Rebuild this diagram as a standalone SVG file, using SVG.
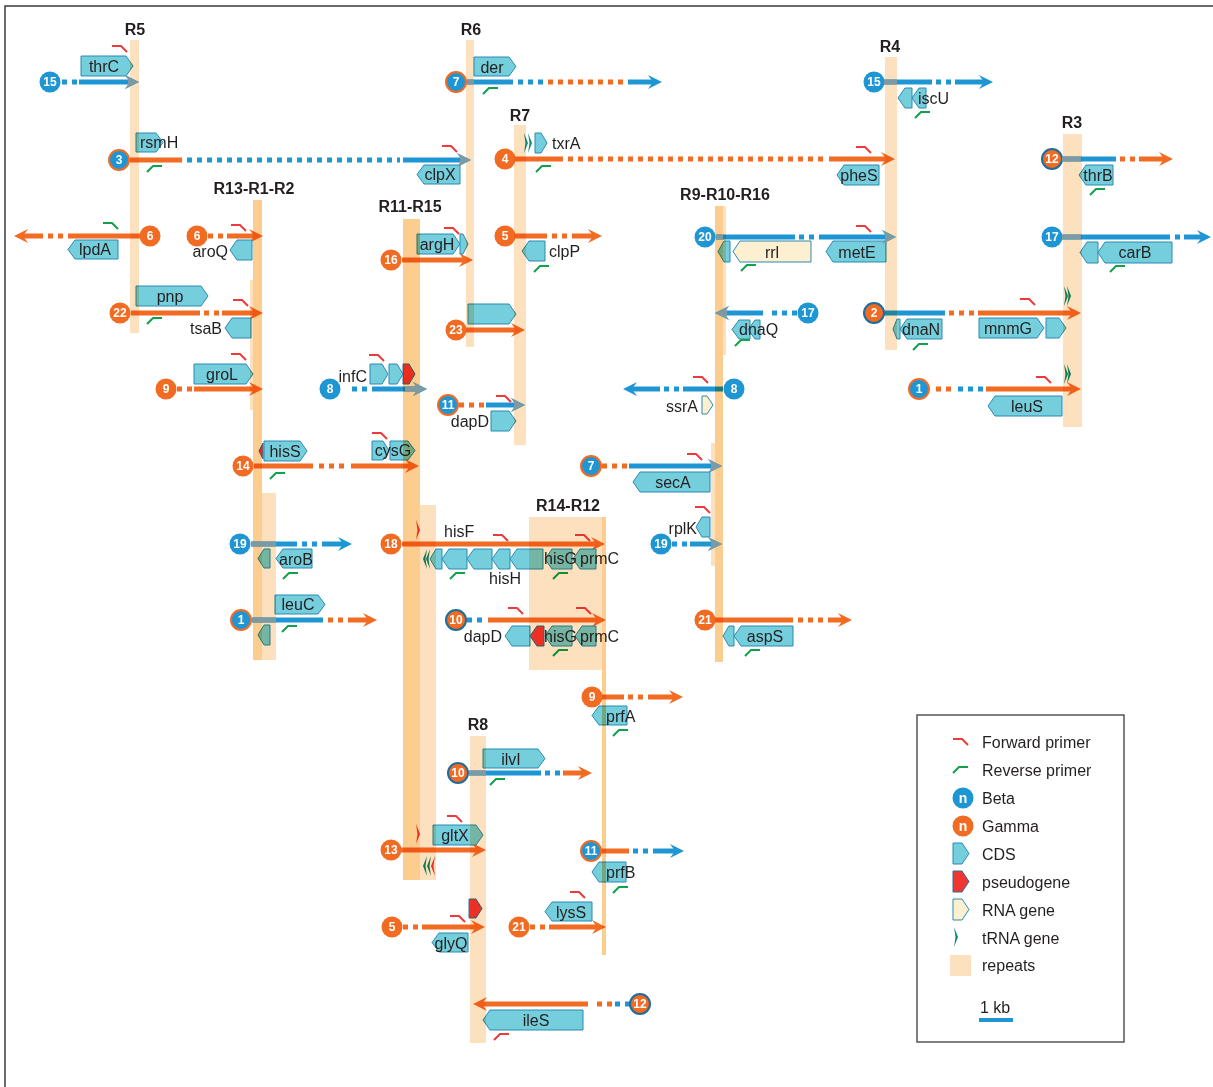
<svg xmlns="http://www.w3.org/2000/svg" width="1213" height="1087" viewBox="0 0 1213 1087">
<style>
text{font-family:"Liberation Sans",Arial,sans-serif;fill:#231f20}
.l{font-size:16px}
.m{text-anchor:middle}
.e{text-anchor:end}
.r{font-size:16px;font-weight:bold;text-anchor:middle}
.n{font-size:12px;font-weight:bold;fill:#fff;text-anchor:middle}
.cb{fill:#1f96d4}
.co{fill:#f26b22}
.rb{stroke:#f26b22;stroke-width:2}
.ro{stroke:#1d6c9c;stroke-width:2}
.sb{stroke:#1f96d4;stroke-width:5;fill:none}
.so{stroke:#f26b22;stroke-width:5;fill:none}
.sg{stroke:#7c9aa6;stroke-width:5;fill:none}
.d{stroke-dasharray:5 5}
.ab{marker-end:url(#mb)}
.ao{marker-end:url(#mo)}
.ag{marker-end:url(#mg)}
.cds{fill:#75cedc;stroke:#2b8ab3;stroke-width:1}
.ps{fill:#ef3631;stroke:#2b6f9a;stroke-width:1}
.rna{fill:#fdf0d0;stroke:#2b8ab3;stroke-width:1}
.tr{fill:#0e8a72}
.trr{fill:#ee3631}
.fr{fill:none;stroke:#ee3a3b;stroke-width:2}
.fg{fill:none;stroke:#10a24b;stroke-width:2}
.rep{fill:#fde0bd}
.rep2{fill:#fdcd90}
#repeats{mix-blend-mode:multiply}
</style>
<defs>
<marker id="mb" viewBox="0 -7 14 14" refX="5" refY="0" markerWidth="14" markerHeight="14" markerUnits="userSpaceOnUse" orient="auto"><path d="M0,-7L14,0L0,7L5,0Z" fill="#1f96d4"/></marker>
<marker id="mo" viewBox="0 -7 14 14" refX="5" refY="0" markerWidth="14" markerHeight="14" markerUnits="userSpaceOnUse" orient="auto"><path d="M0,-7L14,0L0,7L5,0Z" fill="#f26b22"/></marker>
<marker id="mg" viewBox="0 -7 14 14" refX="5" refY="0" markerWidth="14" markerHeight="14" markerUnits="userSpaceOnUse" orient="auto"><path d="M0,-7L14,0L0,7L5,0Z" fill="#7c9aa6"/></marker>
<path id="fp" d="M0,0H9L15,6"/>
<path id="rp" d="M15,0H6L0,6"/>
<path id="tr" d="M0,0L4,10L0,20L1.5,10Z"/>
<path id="trl" d="M4,0L0,10L4,20L2.5,10Z"/>
</defs>
<rect x="0" y="0" width="1213" height="1087" fill="#fff"/>
<rect x="5" y="6" width="1300" height="1200" fill="none" stroke="#3a3a3a" stroke-width="1.5"/>

<g id="connectors">
<path class="sb d" d="M62,82H77"/><path class="sb ab" d="M79,82H130"/>
<path class="so" d="M130,160H182"/><path class="sb d" d="M187,160H400"/><path class="sb ab" d="M403,160H462"/>
<path class="so" d="M140,236H68"/><path class="so d" d="M63,236H47"/><path class="so ao" d="M43,236H23"/>
<path class="so d" d="M208,236H223"/><path class="so ao" d="M227,236H254"/>
<path class="so" d="M131,313H200"/><path class="so d" d="M204,313H219"/><path class="so ao" d="M222,313H254"/>
<path class="so d" d="M177,389H192"/><path class="so ao" d="M194,389H254"/>
<path class="so" d="M254,466H313"/><path class="so d" d="M319,466H344"/><path class="so ao" d="M351,466H410"/>
<path class="sb" d="M251,544H297"/><path class="sb d" d="M302,544H317"/><path class="sb ab" d="M322,544H343"/>
<path class="sb" d="M252,620H323"/><path class="so d" d="M328,620H343"/><path class="so ao" d="M348,620H368"/>
<path class="sb" d="M467,82H513"/><path class="sb d" d="M518,82H543"/><path class="so d" d="M548,82H623"/><path class="sb ab" d="M628,82H653"/>
<path class="so" d="M515,159H563"/><path class="so d" d="M568,159H823"/><path class="so ao" d="M829,159H886"/>
<path class="so" d="M515,236H547"/><path class="so d" d="M552,236H567"/><path class="so ao" d="M572,236H593"/>
<path class="so ao" d="M402,260H464"/>
<path class="so ao" d="M466,330H516"/>
<path class="sb d" d="M352,389H367"/><path class="sb ab" d="M372,389H418"/>
<path class="so d" d="M459,405H484"/><path class="sb ab" d="M486,405H516"/>
<path class="sb" d="M716,237H795"/><path class="sb d" d="M799,237H814"/><path class="sb ab" d="M819,237H887"/>
<path class="sb d" d="M797,313H767"/><path class="sb ab" d="M763,313H724"/>
<path class="sb" d="M723,389H683"/><path class="sb d" d="M679,389H664"/><path class="sb ab" d="M660,389H632"/>
<path class="so d" d="M602,466H627"/><path class="sb ab" d="M629,466H713"/>
<path class="sb d" d="M672,544H687"/><path class="sb ab" d="M690,544H713"/>
<path class="so" d="M715,620H793"/><path class="so d" d="M798,620H823"/><path class="so ao" d="M828,620H843"/>
<path class="sb" d="M884,82H932"/><path class="sb d" d="M936,82H951"/><path class="sb ab" d="M955,82H984"/>
<path class="sb" d="M884,313H945"/><path class="so d" d="M949,313H974"/><path class="so ao" d="M978,313H1072"/>
<path class="sb" d="M1062,159H1116"/><path class="so d" d="M1120,159H1135"/><path class="so ao" d="M1139,159H1164"/>
<path class="sb" d="M1062,237H1170"/><path class="sb d" d="M1175,237H1180"/><path class="sb ab" d="M1184,237H1202"/>
<path class="so d" d="M936,389H951"/><path class="sb d" d="M958,389H983"/><path class="so ao" d="M986,389H1072"/>
<path class="so ao" d="M402,544H596"/>
<path class="sb d" d="M467,620H482"/><path class="so ao" d="M488,620H597"/>
<path class="so" d="M602,697H624"/><path class="so d" d="M628,697H643"/><path class="so ao" d="M648,697H674"/>
<path class="sb" d="M469,773H541"/><path class="sb d" d="M545,773H560"/><path class="so ao" d="M563,773H583"/>
<path class="so ao" d="M401,850H477"/>
<path class="so" d="M601,851H629"/><path class="sb d" d="M633,851H648"/><path class="sb ab" d="M653,851H675"/>
<path class="so d" d="M403,927H418"/><path class="so ao" d="M422,927H476"/>
<path class="so d" d="M530,927H545"/><path class="so ao" d="M549,927H597"/>
<path class="sb d" d="M630,1004H615"/><path class="so d" d="M612,1004H592"/><path class="so ao" d="M588,1004H482"/>
</g>

<g id="n-thrC">
<path class="cds" d="M81,56H126L133,66L126,76H81Z"/><text class="l m" x="104" y="72">thrC</text>
<use href="#fp" x="112" y="46" class="fr"/>
<circle cx="50" cy="82" r="10.5" class="cb"/><text class="n" x="50" y="86.3">15</text>
</g>
<g id="n-rsmH">
<path class="cds" d="M136,133H156L163,142.5L156,152H136Z"/><text class="l" x="140" y="148">rsmH</text>
<use href="#rp" x="147" y="166" class="fg"/>
<use href="#fp" x="442" y="146" class="fr"/>
<path class="cds" d="M460,165H424L417,174.5L424,184H460Z"/><text class="l m" x="440" y="180">clpX</text>
<circle cx="119" cy="160" r="10" class="cb rb"/><text class="n" x="119" y="164.3">3</text>
</g>
<g id="n-lpdA">
<path class="cds" d="M118,240H75L68,249.5L75,259H118Z"/><text class="l m" x="95" y="255">lpdA</text>
<use href="#fp" x="103" y="223" class="fg"/>
<circle cx="150" cy="236" r="10.5" class="co"/><text class="n" x="150" y="240.3">6</text>
</g>
<g id="n-aroQ">
<path class="cds" d="M252,240H237L230,250L237,260H252Z"/><text class="l e" x="228" y="257">aroQ</text>
<use href="#fp" x="231" y="225" class="fr"/>
<circle cx="197" cy="236" r="10.5" class="co"/><text class="n" x="197" y="240.3">6</text>
</g>
<g id="n-pnp">
<path class="cds" d="M136,286H201L208,296L201,306H136Z"/><text class="l m" x="170" y="302">pnp</text>
<use href="#fp" x="233" y="300" class="fr"/>
<use href="#rp" x="147" y="318" class="fg"/>
<path class="cds" d="M251,318H232L225,328L232,338H251Z"/><text class="l e" x="222" y="334">tsaB</text>
<circle cx="120" cy="313" r="10.5" class="co"/><text class="n" x="120" y="317.3">22</text>
</g>
<g id="n-groL">
<path class="cds" d="M194,364H246L253,374L246,384H194Z"/><text class="l m" x="222" y="380">groL</text>
<use href="#fp" x="231" y="354" class="fr"/>
<circle cx="166" cy="389" r="10.5" class="co"/><text class="n" x="166" y="393.3">9</text>
</g>
<g id="n-hisS">
<path class="cds" d="M264,441H300L307,451L300,461H264Z"/><text class="l m" x="285" y="457">hisS</text>
<path class="ps" d="M263,443L259,451L263,459Z"/>
<use href="#rp" x="270" y="473" class="fg"/>
<path class="cds" d="M372,441H383L389,450.5L383,460H372Z"/><path class="cds" d="M390,441H408L415,450.5L408,460H390Z"/>
<text class="l m" x="393" y="456">cysG</text>
<use href="#fp" x="372" y="433" class="fr"/>
<circle cx="243" cy="466" r="10.5" class="co"/><text class="n" x="243" y="470.3">14</text>
</g>
<g id="n-aroB">
<path class="cds" d="M270,549H264L258,558.5L264,568H270Z"/>
<path class="cds" d="M312,549H283L276,558.5L283,568H312Z"/><text class="l m" x="296" y="565">aroB</text>
<use href="#rp" x="283" y="573" class="fg"/>
<circle cx="240" cy="544" r="10.5" class="cb"/><text class="n" x="240" y="548.3">19</text>
</g>
<g id="n-leuC">
<path class="cds" d="M275,595H318L325,604.5L318,614H275Z"/><text class="l m" x="298" y="610">leuC</text>
<path class="cds" d="M270,625H264L258,635L264,645H270Z"/>
<use href="#rp" x="282" y="626" class="fg"/>
<circle cx="241" cy="620" r="10" class="cb rb"/><text class="n" x="241" y="624.3">1</text>
</g>
<g id="n-der">
<path class="cds" d="M474,57H509L516,66.5L509,76H474Z"/><text class="l m" x="492" y="73">der</text>
<use href="#rp" x="483" y="88" class="fg"/>
<circle cx="456" cy="82" r="10" class="cb rb"/><text class="n" x="456" y="86.3">7</text>
</g>
<g id="n-txrA">
<use href="#tr" x="524" y="133" class="tr"/><use href="#tr" x="528" y="133" class="tr"/>
<path class="cds" d="M535,133H541L547,143L541,153H535Z"/><text class="l" x="552" y="149">txrA</text>
<use href="#rp" x="536" y="166" class="fg"/>
<use href="#fp" x="856" y="147" class="fr"/>
<path class="cds" d="M879,165H844L837,175L844,185H879Z"/><text class="l m" x="859" y="181">pheS</text>
<circle cx="505" cy="159" r="10.5" class="co"/><text class="n" x="505" y="163.3">4</text>
</g>
<g id="n-clpP">
<path class="cds" d="M545,241H529L522,251L529,261H545Z"/><text class="l" x="549" y="257">clpP</text>
<use href="#rp" x="534" y="266" class="fg"/>
<circle cx="505" cy="236" r="10.5" class="co"/><text class="n" x="505" y="240.3">5</text>
</g>
<g id="n-argH">
<path class="cds" d="M417,234H453L460,244L453,254H417Z"/><path class="cds" d="M460,234H463L468,244L463,254H460Z"/>
<text class="l m" x="437" y="250">argH</text>
<use href="#fp" x="444" y="228" class="fr"/>
<circle cx="391" cy="260" r="10.5" class="co"/><text class="n" x="391" y="264.3">16</text>
</g>
<g id="n-23">
<path class="cds" d="M468,304H509L516,314L509,324H468Z"/>
<circle cx="456" cy="330" r="10.5" class="co"/><text class="n" x="456" y="334.3">23</text>
</g>
<g id="n-infC">
<path class="cds" d="M370,364H382L388,374L382,384H370Z"/><path class="cds" d="M389,364H397L403,374L397,384H389Z"/>
<path class="ps" d="M403,364H409L415,374L409,384H403Z"/>
<text class="l e" x="367" y="382">infC</text>
<use href="#fp" x="369" y="355" class="fr"/>
<circle cx="330" cy="389" r="10.5" class="cb"/><text class="n" x="330" y="393.3">8</text>
</g>
<g id="n-dapD1">
<path class="cds" d="M491,411H509L516,421L509,431H491Z"/><text class="l e" x="489" y="427">dapD</text>
<use href="#fp" x="496" y="396" class="fr"/>
<circle cx="448" cy="405" r="10" class="cb rb"/><text class="n" x="448" y="409.3">11</text>
</g>
<g id="n-rrl">
<path class="cds" d="M730,241H724L718,251.5L724,262H730Z"/>
<path class="rna" d="M811,241H740L733,251.5L740,262H811Z"/><text class="l m" x="772" y="258">rrl</text>
<path class="cds" d="M886,241H833L826,251.5L833,262H886Z"/><text class="l m" x="857" y="258">metE</text>
<use href="#fp" x="856" y="226" class="fr"/>
<use href="#rp" x="741" y="265" class="fg"/>
<circle cx="705" cy="237" r="10.5" class="cb"/><text class="n" x="705" y="241.3">20</text>
</g>
<g id="n-dnaQ">
<path class="cds" d="M750,320H739L732,329.5L739,339H750Z"/><path class="cds" d="M760,320H755L748,329.5L755,339H760Z"/>
<text class="l" x="739" y="335">dnaQ</text>
<use href="#rp" x="735" y="340" class="fg"/>
<circle cx="808" cy="313" r="10.5" class="cb"/><text class="n" x="808" y="317.3">17</text>
</g>
<g id="n-ssrA">
<path class="rna" d="M702,396H707L713,405L707,414H702Z"/><text class="l e" x="698" y="412">ssrA</text>
<use href="#fp" x="693" y="377" class="fr"/>
<circle cx="734" cy="389" r="10.5" class="cb"/><text class="n" x="734" y="393.3">8</text>
</g>
<g id="n-secA">
<path class="cds" d="M710,472H640L633,482L640,492H710Z"/><text class="l m" x="673" y="488">secA</text>
<use href="#fp" x="687" y="454" class="fr"/>
<circle cx="591" cy="466" r="10" class="cb rb"/><text class="n" x="591" y="470.3">7</text>
</g>
<g id="n-rplK">
<path class="cds" d="M710,517H702L696,527L702,537H710Z"/><text class="l e" x="697" y="534">rplK</text>
<use href="#fp" x="695" y="507" class="fr"/>
<circle cx="661" cy="544" r="10.5" class="cb"/><text class="n" x="661" y="548.3">19</text>
</g>
<g id="n-aspS">
<path class="cds" d="M734,626H729L723,636L729,646H734Z"/>
<path class="cds" d="M793,626H741L734,636L741,646H793Z"/><text class="l m" x="765" y="642">aspS</text>
<use href="#rp" x="745" y="650" class="fg"/>
<circle cx="705" cy="620" r="10.5" class="co"/><text class="n" x="705" y="624.3">21</text>
</g>
<g id="n-iscU">
<path class="cds" d="M912,88H905L898,98L905,108H912Z"/><path class="cds" d="M926,88H919L912,98L919,108H926Z"/>
<text class="l" x="918" y="104">iscU</text>
<use href="#rp" x="915" y="112" class="fg"/>
<circle cx="874" cy="82" r="10.5" class="cb"/><text class="n" x="874" y="86.3">15</text>
</g>
<g id="n-dnaN">
<path class="cds" d="M900,319H897L893,329L897,339H900Z"/>
<path class="cds" d="M942,319H907L900,329L907,339H942Z"/><text class="l m" x="921" y="335">dnaN</text>
<use href="#rp" x="913" y="344" class="fg"/>
<use href="#fp" x="1020" y="299" class="fr"/>
<path class="cds" d="M979,318H1037L1044,328L1037,338H979Z"/><text class="l m" x="1008" y="334">mnmG</text>
<path class="cds" d="M1046,318H1059L1066,328L1059,338H1046Z"/>
<use href="#tr" x="1064" y="286" class="tr"/><use href="#tr" x="1067" y="286" class="tr"/>
<circle cx="874" cy="313" r="10" class="co ro"/><text class="n" x="874" y="317.3">2</text>
</g>
<g id="n-thrB">
<path class="cds" d="M1113,165H1086L1079,175L1086,185H1113Z"/><text class="l m" x="1098" y="181">thrB</text>
<use href="#rp" x="1090" y="189" class="fg"/>
<circle cx="1052" cy="159" r="10" class="co ro"/><text class="n" x="1052" y="163.3">12</text>
</g>
<g id="n-carB">
<path class="cds" d="M1098,242H1087L1080,252.5L1087,263H1098Z"/>
<path class="cds" d="M1172,242H1105L1098,252.5L1105,263H1172Z"/><text class="l m" x="1135" y="258">carB</text>
<use href="#rp" x="1110" y="266" class="fg"/>
<circle cx="1052" cy="237" r="10.5" class="cb"/><text class="n" x="1052" y="241.3">17</text>
</g>
<g id="n-leuS">
<path class="cds" d="M1062,396H995L988,406L995,416H1062Z"/><text class="l m" x="1027" y="412">leuS</text>
<use href="#fp" x="1036" y="377" class="fr"/>
<use href="#tr" x="1064" y="364" class="tr"/><use href="#tr" x="1067" y="364" class="tr"/>
<circle cx="919" cy="389" r="10" class="cb rb"/><text class="n" x="919" y="393.3">1</text>
</g>
<g id="n-hisF">
<use href="#tr" x="416" y="520" class="trr"/>
<text class="l" x="444" y="537">hisF</text>
<use href="#fp" x="493" y="535" class="fr"/><use href="#fp" x="575" y="535" class="fr"/>
<use href="#trl" x="423" y="549" class="tr"/><use href="#trl" x="426" y="549" class="tr"/>
<path class="cds" d="M442,549H436L430,559L436,569H442Z"/>
<path class="cds" d="M467,549H449L442,559L449,569H467Z"/>
<path class="cds" d="M492,549H474L467,559L474,569H492Z"/>
<path class="cds" d="M510,549H499L492,559L499,569H510Z"/>
<path class="cds" d="M543,549H517L510,559L517,569H543Z"/>
<path class="cds" d="M572,549H552L545,559L552,569H572Z"/>
<path class="cds" d="M596,549H580L573,559L580,569H596Z"/>
<text class="l" x="544" y="564">hisG</text><text class="l" x="580" y="564">prmC</text>
<text class="l" x="489" y="584">hisH</text>
<use href="#rp" x="450" y="573" class="fg"/><use href="#rp" x="553" y="573" class="fg"/>
<circle cx="391" cy="544" r="10.5" class="co"/><text class="n" x="391" y="548.3">18</text>
</g>
<g id="n-dapD2">
<path class="cds" d="M530,626H512L505,636L512,646H530Z"/>
<path class="ps" d="M544,626H537L530,636L537,646H544Z"/>
<path class="cds" d="M572,626H552L545,636L552,646H572Z"/>
<path class="cds" d="M596,626H582L575,636L582,646H596Z"/>
<text class="l e" x="502" y="642">dapD</text><text class="l" x="544" y="642">hisG</text><text class="l" x="580" y="642">prmC</text>
<use href="#fp" x="508" y="608" class="fr"/><use href="#fp" x="576" y="608" class="fr"/>
<use href="#rp" x="553" y="650" class="fg"/>
<circle cx="456" cy="620" r="10" class="co ro"/><text class="n" x="456" y="624.3">10</text>
</g>
<g id="n-prfA">
<path class="cds" d="M627,706H599L592,715.5L599,725H627Z"/><text class="l" x="606" y="722">prfA</text>
<use href="#rp" x="613" y="730" class="fg"/>
<circle cx="592" cy="697" r="10.5" class="co"/><text class="n" x="592" y="701.3">9</text>
</g>
<g id="n-ilvI">
<path class="cds" d="M483,749H538L545,758.5L538,768H483Z"/><text class="l m" x="511" y="765">ilvI</text>
<use href="#rp" x="490" y="779" class="fg"/>
<circle cx="458" cy="773" r="10" class="co ro"/><text class="n" x="458" y="777.3">10</text>
</g>
<g id="n-gltX">
<use href="#tr" x="416" y="824" class="trr"/>
<path class="cds" d="M433,825H476L483,835L476,845H433Z"/><text class="l m" x="455" y="841">gltX</text>
<use href="#fp" x="447" y="816" class="fr"/>
<use href="#trl" x="423" y="856" class="tr"/><use href="#trl" x="427" y="856" class="tr"/><use href="#trl" x="431" y="856" class="trr"/>
<circle cx="391" cy="850" r="10.5" class="co"/><text class="n" x="391" y="854.3">13</text>
</g>
<g id="n-prfB">
<path class="cds" d="M626,862H599L592,872L599,882H626Z"/><text class="l" x="606" y="878">prfB</text>
<use href="#rp" x="613" y="887" class="fg"/>
<circle cx="591" cy="851" r="10" class="cb rb"/><text class="n" x="591" y="855.3">11</text>
</g>
<g id="n-glyQ">
<path class="cds" d="M468,933H439L432,942.5L439,952H468Z"/><text class="l m" x="451" y="949">glyQ</text>
<path class="ps" d="M469,899H476L482,908.5L476,918H469Z"/>
<use href="#fp" x="450" y="916" class="fr"/>
<circle cx="392" cy="927" r="10.5" class="co"/><text class="n" x="392" y="931.3">5</text>
</g>
<g id="n-lysS">
<path class="cds" d="M592,902H552L545,911.5L552,921H592Z"/><text class="l m" x="571" y="918">lysS</text>
<use href="#fp" x="570" y="892" class="fr"/>
<circle cx="519" cy="927" r="10.5" class="co"/><text class="n" x="519" y="931.3">21</text>
</g>
<g id="n-ileS">
<path class="cds" d="M583,1010H490L483,1020L490,1030H583Z"/><text class="l m" x="536" y="1026">ileS</text>
<use href="#rp" x="494" y="1034" class="fr"/>
<circle cx="640" cy="1004" r="10" class="co ro"/><text class="n" x="640" y="1008.3">12</text>
</g>

<g id="repeats">
<rect class="rep" x="130" y="40" width="9" height="293"/>
<rect class="rep" x="466" y="40" width="8" height="307"/>
<rect class="rep" x="514" y="125" width="12" height="320"/>
<rect class="rep" x="885" y="57" width="12" height="293"/>
<rect class="rep" x="1063" y="134" width="19" height="293"/>
<rect class="rep2" x="253" y="200" width="9" height="460"/>
<rect class="rep" x="250" y="280" width="3" height="130"/>
<rect class="rep" x="262" y="493" width="14" height="167"/>
<rect class="rep2" x="403" y="219" width="17" height="661"/>
<rect class="rep" x="420" y="505" width="16" height="375"/>
<rect class="rep2" x="715" y="206" width="8" height="456"/>
<rect class="rep" x="723" y="206" width="3" height="149"/>
<rect class="rep" x="711" y="443" width="4" height="123"/>
<rect class="rep" x="529" y="517" width="73" height="153"/>
<rect class="rep2" x="602" y="517" width="4" height="438"/>
<rect class="rep" x="470" y="736" width="16" height="307"/>
</g>

<g id="connectors-over-repeats">
<path class="sg ag" d="M128,82H130"/>
<path class="sg ag" d="M460,160H462"/>
<path class="sg" d="M467,82H474"/>
<path class="sg" d="M884,82H897"/>
<path class="sg" d="M716,237H723"/>
<path class="sg ag" d="M885,237H887"/>
<path class="sg ag" d="M727,313H724"/>
<path class="sg ag" d="M711,466H713"/>
<path class="sg ag" d="M711,544H713"/>
<path class="sg ag" d="M405,389H418"/>
<path class="sg ag" d="M514,405H516"/>
<path class="sg" d="M1062,159H1081"/>
<path class="sg" d="M1062,237H1081"/>
<path class="sg" d="M251,544H276"/>
<path class="sg" d="M252,620H276"/>
<path class="sg" d="M469,773H486"/>
</g>

<g id="region-labels">
<text class="r" x="135" y="35">R5</text>
<text class="r" x="471" y="35">R6</text>
<text class="r" x="890" y="52">R4</text>
<text class="r" x="520" y="121">R7</text>
<text class="r" x="1072" y="128">R3</text>
<text class="r" x="254" y="194">R13-R1-R2</text>
<text class="r" x="410" y="212">R11-R15</text>
<text class="r" x="725" y="200">R9-R10-R16</text>
<text class="r" x="568" y="511">R14-R12</text>
<text class="r" x="478" y="730">R8</text>
</g>

<g id="legend">
<rect x="917" y="715" width="207" height="327" fill="none" stroke="#555" stroke-width="1.5"/>
<use href="#fp" x="953" y="739" class="fr"/><text class="l" x="982" y="748">Forward primer</text>
<use href="#rp" x="953" y="767" class="fg"/><text class="l" x="982" y="776">Reverse primer</text>
<circle cx="963" cy="798" r="10.5" class="cb"/><text class="n" x="963" y="802.5" style="font-size:14px">n</text><text class="l" x="982" y="804">Beta</text>
<circle cx="963" cy="826" r="10.5" class="co"/><text class="n" x="963" y="830.5" style="font-size:14px">n</text><text class="l" x="982" y="832">Gamma</text>
<path class="cds" d="M953,843H962L969,853.5L962,864H953Z"/><text class="l" x="982" y="860">CDS</text>
<path class="ps" d="M953,871H962L969,881.5L962,892H953Z"/><text class="l" x="982" y="888">pseudogene</text>
<path class="rna" d="M953,899H962L969,909.5L962,920H953Z"/><text class="l" x="982" y="916">RNA gene</text>
<use href="#tr" x="954" y="927" class="tr"/><text class="l" x="982" y="944">tRNA gene</text>
<rect class="rep" x="950" y="955" width="21" height="21"/><text class="l" x="982" y="971">repeats</text>
<text class="l" x="980" y="1013">1 kb</text>
<path d="M979,1020H1013" stroke="#1f96d4" stroke-width="4"/>
</g>
</svg>
